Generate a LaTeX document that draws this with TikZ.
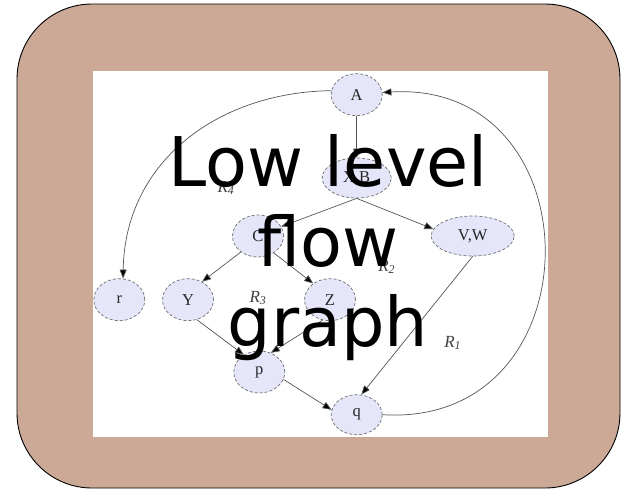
\documentclass[tikz,border=0pt]{standalone}
\usepackage{fontspec}
\setmainfont{Liberation Serif}
\newfontfamily\overlayfont{DejaVu Sans}
\usetikzlibrary{arrows.meta,shapes.geometric}
\definecolor{tanfill}{RGB}{204,169,150}
\definecolor{lav}{RGB}{230,230,250}
\definecolor{edgegray}{RGB}{85,85,85}
\definecolor{bordergray}{RGB}{110,110,110}
\begin{document}
\begin{tikzpicture}[x=1pt,y=-1pt,
  gnode/.style={ellipse,draw=bordergray,densely dashed,line width=0.7pt,fill=lav,inner sep=0pt,
    minimum width=51pt,minimum height=42pt,text=black!85,font=\fontsize{16.5}{16.5}\selectfont},
  edge/.style={draw=edgegray,line width=0.7pt,-{Triangle[length=9pt,width=7pt,fill=black]}},
  rlab/.style={font=\fontsize{17}{17}\selectfont\itshape,text=black!75}]
\useasboundingbox (0,0) rectangle (624,491);
\draw[fill=tanfill,line width=0.9pt,rounded corners=75pt] (17,4) rectangle (620,488);
\fill[white] (93,71) rectangle (548,437);
\node[gnode] (A) at (356.7,94.7) {A};
\node[gnode,minimum width=69pt,minimum height=40pt] (XB) at (356.7,178) {X,B};
\node[gnode] (C) at (258,236) {C};
\node[gnode,minimum width=83pt,minimum height=40pt] (VW) at (472.7,236) {V,W};
\node[gnode] (r) at (119.3,299.7) {r};
\node[gnode] (Y) at (188,299.7) {Y};
\node[gnode] (Z) at (330,299.7) {Z};
\node[gnode] (p) at (259.3,372) {p};
\node[gnode,minimum height=40pt] (q) at (356.7,414.7) {q};
\node[rlab] (R4) at (226,188) {R\textsubscript{4}};
\node[rlab] (R2) at (386.7,267) {R\textsubscript{2}};
\node[rlab] (R3) at (258,298) {R\textsubscript{3}};
\node[rlab] (R1) at (452.7,343) {R\textsubscript{1}};
\draw[edge] (A) -- (XB);
\draw[edge] (XB.south) -- (C.22);
\draw[edge] (XB.south) -- (VW.170);
\draw[edge] (C.-137) -- (Y.52);
\draw[edge] (C.-47) -- (Z.136);
\draw[edge] (Y.-66) -- (p.132);
\draw[edge] (Z.-110) -- (p.59);
\draw[edge] (p.-17) -- (q.169);
\draw[edge] (VW.south) -- (q.77);
\draw[edge] (A.171) .. controls (220,92) and (125,160) .. (r.80);
\draw[edge] (q.0) .. controls (598,428) and (598,80) .. (A.5);
\node[font=\overlayfont\fontsize{68.5}{80}\selectfont,align=center,inner sep=0pt] (T) at (328,247.3) {Low level\\flow\\graph};
\end{tikzpicture}
\end{document}
